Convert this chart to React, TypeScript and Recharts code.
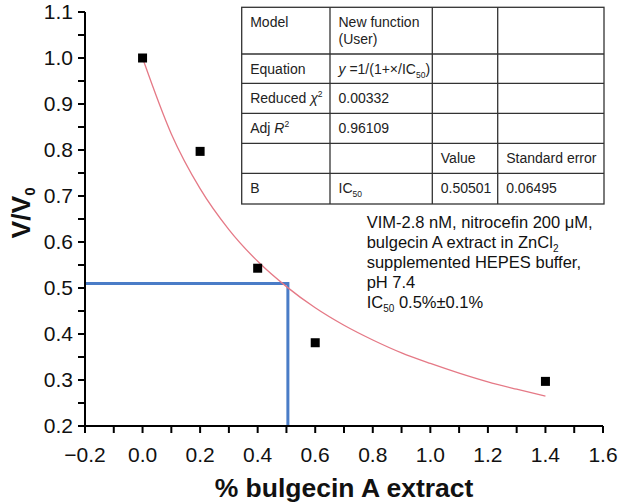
import React from "react";
import {
  ComposedChart,
  Line,
  Scatter,
  XAxis,
  YAxis,
} from "recharts";

// measured points
const pointX = [0, 0.2, 0.4, 0.6, 1.4];
const pointY = [1.0, 0.797, 0.543, 0.381, 0.297];

// fitted curve
const curveX = [0, 0.1, 0.2, 0.3, 0.4, 0.5, 0.6, 0.7, 0.8, 0.9, 1.0, 1.1, 1.2, 1.3, 1.4];
const curveY = [1.0, 0.835, 0.716, 0.627, 0.558, 0.503, 0.457, 0.419, 0.387, 0.359, 0.336, 0.315, 0.296, 0.28, 0.265];

// IC50 guide lines
const guideX = [-0.2, 0.505, 0.505];
const guideY = [0.51, 0.51, 0.2];

const xTicks = [-0.2, -0.1, 0, 0.1, 0.2, 0.3, 0.4, 0.5, 0.6, 0.7, 0.8, 0.9, 1.0, 1.1, 1.2, 1.3, 1.4, 1.5, 1.6];
const yTicks = [0.2, 0.25, 0.3, 0.35, 0.4, 0.45, 0.5, 0.55, 0.6, 0.65, 0.7, 0.75, 0.8, 0.85, 0.9, 0.95, 1.0, 1.05, 1.1];

const tableRows = [
  ["Model", "New function|(User)", "", ""],
  ["Equation", "EQ", "", ""],
  ["CHI", "0.00332", "", ""],
  ["ADJ", "0.96109", "", ""],
  ["", "", "Value", "Standard error"],
  ["B", "IC50", "0.50501", "0.06495"],
];

const noteLines = [
  "VIM-2.8 nM, nitrocefin 200 \u03bcM,",
  "bulgecin A extract in ZnCl2",
  "supplemented HEPES buffer,",
  "pH 7.4",
  "IC50 0.5%\u00b10.1%",
];

const FONT = "Liberation Sans, Arial, Helvetica, sans-serif";

const points = pointX.map((x, i) => ({ x, y: pointY[i] }));
const curve = curveX.map((x, i) => ({ x, y: curveY[i] }));
const guide = guideX.map((x, i) => ({ x, y: guideY[i] }));

const fmtX = (v: number) => {
  if (Math.round(v * 10) % 2 !== 0) return "";
  return v < 0 ? "\u2212" + Math.abs(v).toFixed(1) : v.toFixed(1);
};
const fmtY = (v: number) => (Math.round(v * 100) % 10 !== 0 ? "" : v.toFixed(1));

const SquareDot = (props: any) => {
  const { cx, cy } = props;
  return <rect x={cx - 4.5} y={cy - 4.5} width={9} height={9} fill="#000" />;
};

const COLS = [241.7, 330, 432.3, 497.7, 604];
const ROWS = [7.3, 54, 83.3, 113.3, 143.3, 173.3, 204];

function cellText(content: string, x: number, y: number) {
  const base = { x, y, fontSize: 14, fontFamily: FONT, fill: "#222" };
  if (content === "EQ") {
    return (
      <text {...base}>
        <tspan fontStyle="italic">y</tspan>
        <tspan> =1/(1+×/IC</tspan>
        <tspan fontSize={8.5} dy={4}>50</tspan>
        <tspan dy={-4}>)</tspan>
      </text>
    );
  }
  if (content === "CHI") {
    return (
      <text {...base}>
        Reduced <tspan fontStyle="italic">χ</tspan>
        <tspan fontSize={8.5} dy={-6}>2</tspan>
      </text>
    );
  }
  if (content === "ADJ") {
    return (
      <text {...base}>
        Adj <tspan fontStyle="italic">R</tspan>
        <tspan fontSize={8.5} dy={-6}>2</tspan>
      </text>
    );
  }
  if (content === "IC50") {
    return (
      <text {...base}>
        IC<tspan fontSize={8.5} dy={4}>50</tspan>
      </text>
    );
  }
  if (content.includes("|")) {
    const [a, b] = content.split("|");
    return (
      <text {...base}>
        <tspan x={x}>{a}</tspan>
        <tspan x={x} dy={17.5}>{b}</tspan>
      </text>
    );
  }
  return <text {...base}>{content}</text>;
}

function Overlay() {
  return (
    <svg
      width={618}
      height={503}
      style={{ position: "absolute", left: 0, top: 0, pointerEvents: "none" }}
    >
      {/* table */}
      <g stroke="#333" strokeWidth={1.3} fill="none">
        <rect x={COLS[0]} y={ROWS[0]} width={COLS[4] - COLS[0]} height={ROWS[6] - ROWS[0]} fill="#fff" />
        {COLS.slice(1, 4).map((c) => (
          <line key={c} x1={c} x2={c} y1={ROWS[0]} y2={ROWS[6]} />
        ))}
        {ROWS.slice(1, 6).map((r) => (
          <line key={r} x1={COLS[0]} x2={COLS[4]} y1={r} y2={r} />
        ))}
      </g>
      {tableRows.map((row, ri) =>
        row.map((cell, ci) =>
          cell ? (
            <g key={ri + "-" + ci}>{cellText(cell, COLS[ci] + 8.5, ROWS[ri] + 19.5)}</g>
          ) : null
        )
      )}

      {/* note */}
      <text x={366.7} y={227.7} fontSize={16.5} fontFamily={FONT} fill="#111">
        <tspan x={366.7}>{noteLines[0]}</tspan>
        <tspan x={366.7} dy={20.15}>bulgecin A extract in ZnCl</tspan>
        <tspan fontSize={10} dy={4}>2</tspan>
        <tspan x={366.7} dy={16.15}>{noteLines[2]}</tspan>
        <tspan x={366.7} dy={20.15}>{noteLines[3]}</tspan>
        <tspan x={366.7} dy={20.15}>IC</tspan>
        <tspan fontSize={10} dy={4}>50</tspan>
        <tspan dy={-4}> 0.5%±0.1%</tspan>
      </text>

      {/* axis titles */}
      <text
        x={344}
        y={497}
        textAnchor="middle"
        fontSize={26.5}
        fontWeight="bold"
        fontFamily={FONT}
        fill="#111"
      >
        % bulgecin A extract
      </text>
      <text
        transform="translate(30,213) rotate(-90)"
        textAnchor="middle"
        fontSize={26.5}
        fontWeight="bold"
        fontFamily={FONT}
        fill="#111"
      >
        V/V<tspan fontSize={15} dy={5}>0</tspan>
      </text>
    </svg>
  );
}

export default function App() {
  return (
    <div style={{ position: "absolute", left: 0, top: 0, width: 618, height: 503, background: "#fff" }}>
      <ComposedChart
        width={618}
        height={503}
        margin={{ top: 12, right: 15, left: 0, bottom: 0 }}
      >
        <XAxis
          type="number"
          dataKey="x"
          domain={[-0.2, 1.6]}
          ticks={xTicks}
          interval={0}
          tickFormatter={fmtX}
          height={77}
          tickSize={7}
          tickMargin={14}
          stroke="#000"
          strokeWidth={2}
          tick={{ fill: "#111", fontSize: 21, fontFamily: FONT }}
          allowDataOverflow
        />
        <YAxis
          type="number"
          dataKey="y"
          domain={[0.2, 1.1]}
          ticks={yTicks}
          interval={0}
          tickFormatter={fmtY}
          width={85}
          tickSize={7}
          tickMargin={5}
          stroke="#000"
          strokeWidth={2}
          tick={{ fill: "#111", fontSize: 21, fontFamily: FONT }}
          allowDataOverflow
        />
        <Line
          data={guide}
          dataKey="y"
          type="linear"
          stroke="#4a7cc7"
          strokeWidth={3}
          dot={false}
          activeDot={false}
          isAnimationActive={false}
        />
        <Line
          data={curve}
          dataKey="y"
          type="monotone"
          stroke="#e57986"
          strokeWidth={1.3}
          dot={false}
          activeDot={false}
          isAnimationActive={false}
        />
        <Scatter
          data={points}
          dataKey="y"
          fill="#000"
          shape={<SquareDot />}
          isAnimationActive={false}
        />
      </ComposedChart>
      <Overlay />
    </div>
  );
}
